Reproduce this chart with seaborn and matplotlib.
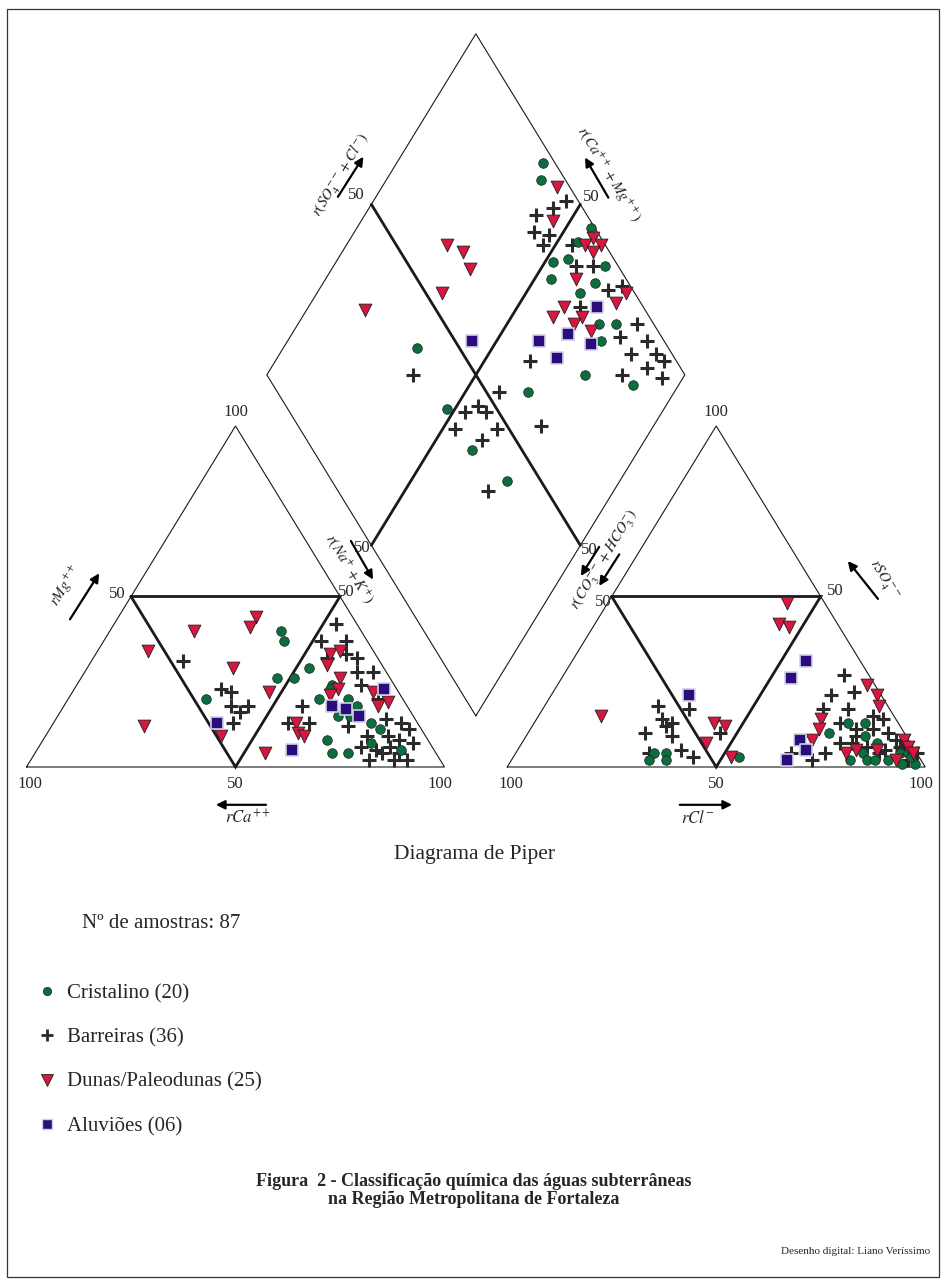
import numpy as np
import pandas as pd
import matplotlib
matplotlib.use("Agg")
import matplotlib.pyplot as plt
import seaborn as sns
from matplotlib.lines import Line2D
from matplotlib.patches import Rectangle

sns.set_theme(style="white")
plt.rcParams["font.family"] = ["Liberation Serif", "DejaVu Serif"]
plt.rcParams["mathtext.fontset"] = "stix"

# ---------------- data (percent of meq) ----------------
group_names = ["Cristalino", "Barreiras", "Dunas/Paleodunas", "Aluviões"]
group_counts = ["20", "36", "25", "06"]

# Cation triangle: rMg %, r(Na+K) %   (rCa = 100 - Mg - NaK)
cri_cat_mg = [40, 37, 29, 26, 26, 20, 24, 23, 20, 20, 18, 15, 15, 13, 11, 8, 7, 4, 4, 5]
cri_cat_nak = [41, 43, 53, 51, 47, 33, 61, 61, 60, 67, 70, 67, 70, 76, 79, 68, 79, 71, 75, 87]
bar_cat_mg = [31, 23, 22, 18, 16, 18, 13, 42, 37, 37, 32, 33, 32, 28, 28, 24, 20, 18,
              13, 13, 12, 14, 13, 11, 9, 8, 9, 7, 6, 5, 4, 6, 2, 2, 2, 4]
bar_cat_nak = [22, 35, 38, 40, 43, 44, 43, 53, 52, 58, 56, 60, 63, 65, 69, 68, 74, 57,
               56, 61, 71, 79, 83, 86, 82, 85, 77, 89, 77, 81, 83, 84, 81, 87, 90, 87]
dun_cat_mg = [44, 41, 40, 34, 29, 22, 12, 9, 4, 33, 34, 30, 26, 23, 21, 22, 19, 18, 13, 10, 9]
dun_cat_nak = [33, 33, 20, 12, 35, 47, 22, 42, 55, 56, 58, 57, 62, 63, 62, 72, 77, 75, 58, 60, 62]
alu_cat_mg = [13, 18, 17, 15, 23, 5]
alu_cat_nak = [39, 64, 68, 72, 74, 61]

# Anion triangle: rSO4 %, rCl %   (r(CO3+HCO3) = 100 - SO4 - Cl)
cri_an_so4 = [4, 4, 2, 2, 3, 13, 13, 10, 9, 7, 4, 2, 2, 2, 2, 4, 1, 4, 1, 3]
cri_an_cl = [33, 36, 33, 37, 54, 75, 79, 72, 81, 85, 83, 81, 85, 87, 90, 92, 94, 94, 97, 95]
bar_an_so4 = [18, 17, 14, 13, 12, 9, 10, 5, 4, 3, 10, 27, 21, 22, 17, 17, 13, 15,
              14, 9, 11, 10, 7, 7, 6, 8, 4, 2, 4, 5, 5, 4, 2, 4, 11, 6]
bar_an_cl = [27, 35, 30, 33, 32, 35, 28, 39, 32, 43, 46, 67, 67, 72, 67, 73, 73, 80,
             83, 79, 82, 86, 76, 79, 83, 89, 74, 72, 66, 88, 92, 96, 95, 87, 78, 91]
dun_an_so4 = [48, 42, 41, 15, 13, 12, 7, 3, 24, 21, 18, 14, 11, 8, 4, 5, 5, 8, 6, 2, 4]
dun_an_cl = [43, 44, 47, 15, 43, 46, 44, 52, 74, 78, 80, 68, 69, 69, 79, 81, 86, 91, 93, 92, 95]
alu_an_so4 = [21, 31, 26, 8, 5, 2]
alu_an_cl = [33, 56, 55, 66, 69, 66]

# Diamond: r(SO4+Cl) %, r(Na+K) %
cri_dia_scl = [97, 94, 99, 94, 89, 85, 97, 82, 92, 87, 87, 91, 85, 76, 86, 60, 40, 38, 38, 42]
cri_dia_nak = [35, 37, 56, 55, 55, 52, 65, 54, 65, 63, 72, 76, 75, 76, 89, 65, 32, 48, 60, 73]
bar_dia_scl = [97, 93, 88, 85, 88, 85, 92, 90, 94, 98, 94, 85, 96, 90, 96, 90, 96, 97,
               92, 85, 94, 65, 35, 53, 46, 42, 47, 37, 47, 42, 58, 36]
bar_dia_nak = [46, 44, 41, 43, 47, 47, 54, 58, 62, 72, 69, 65, 81, 79, 86, 84, 90, 93,
               90, 85, 95, 61, 35, 58, 55, 53, 58, 53, 63, 61, 73, 70]
dun_dia_scl = [97, 91, 98, 95, 99, 96, 88, 98, 81, 77, 94, 84, 81, 84, 62, 65, 64, 54, 33]
dun_dia_nak = [42, 46, 58, 57, 61, 60, 60, 74, 61, 60, 73, 67, 66, 71, 24, 29, 33, 30, 14]
alu_dia_scl = [89, 78, 70, 82, 72, 54]
alu_dia_nak = [69, 66, 60, 73, 67, 44]

# ---------------- geometry ----------------
H = np.sqrt(3) / 2
GAP = 15.0
BX, BY = 100 + GAP / 2, GAP / 2 * np.sqrt(3)

def cat_xy(mg, nak):
    mg, nak = np.asarray(mg, float), np.asarray(nak, float)
    return nak + mg / 2, mg * H

def an_xy(so4, cl):
    so4, cl = np.asarray(so4, float), np.asarray(cl, float)
    return 100 + GAP + cl + so4 / 2, so4 * H

def dia_xy(scl, nak):
    scl, nak = np.asarray(scl, float), np.asarray(nak, float)
    cm = 100 - nak
    return BX + 0.5 * (scl - cm), BY + H * (scl + cm)

rows = []
sets = [
    ("Cristalino", cri_cat_mg, cri_cat_nak, cri_an_so4, cri_an_cl, cri_dia_scl, cri_dia_nak),
    ("Barreiras", bar_cat_mg, bar_cat_nak, bar_an_so4, bar_an_cl, bar_dia_scl, bar_dia_nak),
    ("Dunas/Paleodunas", dun_cat_mg, dun_cat_nak, dun_an_so4, dun_an_cl, dun_dia_scl, dun_dia_nak),
    ("Aluviões", alu_cat_mg, alu_cat_nak, alu_an_so4, alu_an_cl, alu_dia_scl, alu_dia_nak),
]
for g, cmg, cnak, aso4, acl, dscl, dnak in sets:
    for fx_, fy_ in (cat_xy(cmg, cnak), an_xy(aso4, acl), dia_xy(dscl, dnak)):
        for xx, yy in zip(fx_, fy_):
            rows.append((g, xx, yy))
df = pd.DataFrame(rows, columns=["grupo", "x", "y"])

# ---------------- figure ----------------
W, Hpx = 946, 1284
fig = plt.figure(figsize=(W / 100, Hpx / 100), dpi=100)
ax = fig.add_axes([0, 0, 1, 1])
PX0, SX, PY0, SY = 26.5, 4.18, 767.0, 3.9376
ax.set_xlim(-PX0 / SX, (W - PX0) / SX)
ax.set_ylim((PY0 - Hpx) / SY, PY0 / SY)
ax.axis("off")

thin = dict(color="#1a1a1a", lw=0.8, solid_joinstyle="miter")
thick = dict(color="#1a1a1a", lw=2.0, solid_joinstyle="miter")

for ox in (0, 100 + GAP):
    ax.plot([ox, ox + 100, ox + 50, ox], [0, 0, 100 * H, 0], **thin)
    ax.plot([ox + 25, ox + 75, ox + 50, ox + 25], [50 * H, 50 * H, 0, 50 * H], **thick)

T = (BX, BY + 200 * H)
L = (BX - 50, BY + 100 * H)
R = (BX + 50, BY + 100 * H)
ax.plot([BX, R[0], T[0], L[0], BX], [BY, R[1], T[1], L[1], BY], **thin)
ax.plot([(L[0] + T[0]) / 2, (BX + R[0]) / 2], [(L[1] + T[1]) / 2, (BY + R[1]) / 2], **thick)
ax.plot([(R[0] + T[0]) / 2, (BX + L[0]) / 2], [(R[1] + T[1]) / 2, (BY + L[1]) / 2], **thick)

styles = {
    "Cristalino": dict(marker="o", s=48, color="#0b6e3e", edgecolor="#202020", linewidth=0.5),
    "Barreiras": dict(marker="+", s=105, color="#2a2a2a", linewidth=2.2),
    "Dunas/Paleodunas": dict(marker="v", s=85, color="#d6173f", edgecolor="#202020", linewidth=0.6),
    "Aluviões": dict(marker="s", s=78, color="#2b0c7c", edgecolor="#cfcfe6", linewidth=1.2),
}
for g in ["Barreiras", "Cristalino", "Dunas/Paleodunas", "Aluviões"]:
    sub = df[df["grupo"] == g]
    sns.scatterplot(data=sub, x="x", y="y", ax=ax, legend=False, zorder=3, **styles[g])

# ---------------- scale labels ----------------
fs_num = 12
def num(x, y, s, ha="center", va="center"):
    ax.text(x, y, s, fontsize=fs_num, ha=ha, va=va)

for ox in (0, 100 + GAP):
    num(ox + 0.8, -2.2, "100", va="top")
    num(ox + 50, -2.2, "50", va="top")
    num(ox + 99, -2.2, "100", va="top")
    num(ox + 50, 100 * H + 1.5, "100", va="bottom")
num(23.8, 44.0, "50", ha="right")
num(74.6, 44.5, "50", ha="left")
num(140.0, 41.9, "50", ha="right")
num(191.5, 44.7, "50", ha="left")
num(82.3, 55.6, "50", ha="right")
num(132.6, 55.2, "50", ha="left")
num(80.8, 145.3, "50", ha="right")
num(133.2, 144.8, "50", ha="left")

arrow_kw = dict(arrowstyle="-|>", lw=1.6, color="black", mutation_scale=13, shrinkA=0, shrinkB=0)
def arrow(tail, head):
    ax.annotate("", xy=head, xytext=tail, arrowprops=arrow_kw)

fs_lab = 11
ROT = 58.5
# cation triangle
arrow((10.4, 37.5), (17.4, 49.2))
ax.text(9.4, 46.0, r"$rMg^{++}$", fontsize=fs_lab, rotation=ROT, ha="center", va="center", rotation_mode="anchor")
arrow((57.3, -9.6), (45.3, -9.6))
ax.text(53.0, -13.0, r"$rCa^{++}$", fontsize=fs_lab + 1, ha="center", va="center")
arrow((77.6, 57.4), (82.9, 47.6))
ax.text(77.2, 50.2, r"$r(Na^{+}+K^{+})$", fontsize=fs_lab, rotation=-ROT, ha="center", va="center", rotation_mode="anchor")
# diamond
arrow((74.5, 144.8), (80.6, 155.0))
ax.text(75.2, 150.3, r"$r(SO_4^{--}+Cl^{-})$", fontsize=fs_lab, rotation=ROT, ha="center", va="center", rotation_mode="anchor")
arrow((139.2, 144.6), (133.6, 154.8))
ax.text(139.2, 150.5, r"$r(Ca^{++}+Mg^{++})$", fontsize=fs_lab, rotation=-ROT, ha="center", va="center", rotation_mode="anchor")
# anion triangle
arrow((137.0, 55.9), (132.6, 48.5))
arrow((141.8, 54.0), (137.0, 46.0))
ax.text(138.4, 52.5, r"$r(CO_3^{--}+HCO_3^{-})$", fontsize=fs_lab, rotation=ROT, ha="center", va="center", rotation_mode="anchor")
arrow((203.7, 42.7), (196.5, 52.3))
ax.text(205.0, 47.6, r"$rSO_4^{--}$", fontsize=fs_lab, rotation=-ROT, ha="center", va="center", rotation_mode="anchor")
arrow((156.3, -9.6), (168.8, -9.6))
ax.text(160.6, -13.0, r"$rCl^{-}$", fontsize=fs_lab + 1, ha="center", va="center")

# ---------------- texts ----------------
def fx(px):
    return px / W
def fy(py):
    return 1 - py / Hpx

fig.text(fx(474), fy(854), "Diagrama de Piper", fontsize=15.5, ha="center", va="center")
fig.text(fx(82), fy(923), "Nº de amostras: 87", fontsize=15, ha="left", va="center")

handles = [
    Line2D([], [], ls="none", marker="o", markersize=6, markerfacecolor="#0b6e3e", markeredgecolor="#202020", markeredgewidth=0.5),
    Line2D([], [], ls="none", marker="+", markersize=9, color="#2a2a2a", markeredgewidth=2.0),
    Line2D([], [], ls="none", marker="v", markersize=8, markerfacecolor="#d6173f", markeredgecolor="#202020", markeredgewidth=0.6),
    Line2D([], [], ls="none", marker="s", markersize=7, markerfacecolor="#2b0c7c", markeredgecolor="#cfcfe6", markeredgewidth=1.0),
]
labels = [f"{n} ({c})" for n, c in zip(group_names, group_counts)]
fig.legend(handles, labels, loc="upper left", bbox_to_anchor=(fx(36.6), fy(984)),
           frameon=False, fontsize=15, labelspacing=1.18, handlelength=1.0,
           handletextpad=0.45, borderpad=0, borderaxespad=0)

fig.text(fx(474), fy(1181), "Figura  2 - Classificação química das águas subterrâneas",
         fontsize=13, fontweight="bold", ha="center", va="center")
fig.text(fx(474), fy(1200), "na Região Metropolitana de Fortaleza",
         fontsize=13, fontweight="bold", ha="center", va="center")
fig.text(fx(930), fy(1251), "Desenho digital: Liano Veríssimo", fontsize=8, ha="right", va="center")

fig.add_artist(Rectangle((fx(7), fy(1277)), (939 - 7) / W, (1277 - 9) / Hpx,
                         transform=fig.transFigure, fill=False, lw=0.9, ec="#333333"))

fig.savefig("out.png", dpi=100)
